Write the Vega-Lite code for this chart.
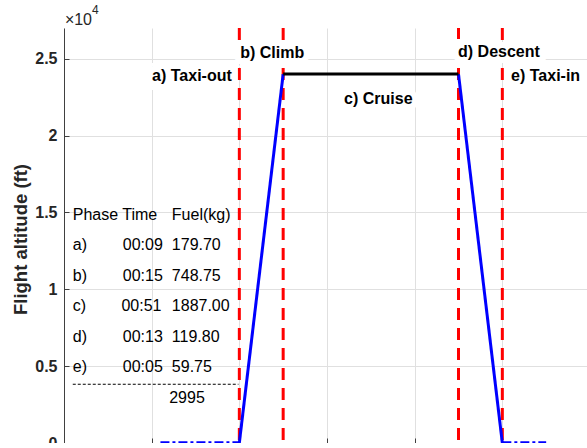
{
  "$schema": "https://vega.github.io/schema/vega-lite/v6.json",
  "width": 526,
  "height": 415,
  "autosize": {"type": "none"},
  "padding": {"left": 64, "top": 28, "right": 0, "bottom": 0},
  "background": "white",
  "config": {
    "font": "Liberation Sans",
    "view": {"stroke": null},
    "axis": {
      "domainColor": "#404040",
      "domainWidth": 1,
      "tickColor": "#404040",
      "gridColor": "#e0e0e0",
      "gridWidth": 1,
      "labelColor": "#262626",
      "labelFont": "Liberation Sans",
      "labelFontSize": 16,
      "labelFontWeight": "bold",
      "titleFont": "Liberation Sans",
      "titleColor": "#262626"
    }
  },
  "datasets": {
    "profile": [
      {"phase": "taxi-out", "x": 11, "alt": 0},
      {"phase": "taxi-out", "x": 20, "alt": 0},
      {"phase": "climb", "x": 20, "alt": 0},
      {"phase": "climb", "x": 25, "alt": 24000},
      {"phase": "cruise", "x": 25, "alt": 24000},
      {"phase": "cruise", "x": 45, "alt": 24000},
      {"phase": "descent", "x": 45, "alt": 24000},
      {"phase": "descent", "x": 50, "alt": 0},
      {"phase": "taxi-in", "x": 50, "alt": 0},
      {"phase": "taxi-in", "x": 55, "alt": 0}
    ],
    "bounds": [{"x": 20}, {"x": 25}, {"x": 45}, {"x": 50}],
    "labels": [
      {"label": "a) Taxi-out", "x": 10.05, "alt": 23570},
      {"label": "b) Climb", "x": 20.1, "alt": 25065},
      {"label": "c) Cruise", "x": 31.95, "alt": 22070},
      {"label": "d) Descent", "x": 44.95, "alt": 25090},
      {"label": "e) Taxi-in", "x": 51.0, "alt": 23520}
    ],
    "exponent": [{"label": "×10", "x": 0.1, "alt": 27195}],
    "power": [{"label": "4", "x": 3.2, "alt": 27940}],
    "table": [
      {"text": "Phase Time", "x": 1, "alt": 14518},
      {"text": "Fuel(kg)", "x": 12.3, "alt": 14518},
      {"text": "a)", "x": 1, "alt": 12533},
      {"text": "00:09", "x": 6.7, "alt": 12533},
      {"text": "179.70", "x": 12.3, "alt": 12533},
      {"text": "b)", "x": 1, "alt": 10547},
      {"text": "00:15", "x": 6.7, "alt": 10547},
      {"text": "748.75", "x": 12.3, "alt": 10547},
      {"text": "c)", "x": 1, "alt": 8561},
      {"text": "00:51", "x": 6.55, "alt": 8561},
      {"text": "1887.00", "x": 12.3, "alt": 8561},
      {"text": "d)", "x": 1, "alt": 6576},
      {"text": "00:13", "x": 6.7, "alt": 6576},
      {"text": "119.80", "x": 12.3, "alt": 6576},
      {"text": "e)", "x": 1, "alt": 4590},
      {"text": "00:05", "x": 6.7, "alt": 4590},
      {"text": "59.75", "x": 12.3, "alt": 4590},
      {"text": "2995", "x": 12.0, "alt": 2604}
    ],
    "sep": [{"x": 1, "x2": 19.9, "alt": 3822}]
  },
  "encoding": {
    "x": {
      "field": "x",
      "type": "quantitative",
      "scale": {"domain": [0, 60], "nice": false},
      "axis": {
        "values": [0, 10, 20, 30, 40, 50, 60],
        "grid": true,
        "labels": false,
        "title": null,
        "tickSize": -5,
        "domain": true
      }
    },
    "y": {
      "field": "alt",
      "type": "quantitative",
      "scale": {"domain": [0, 27000], "nice": false},
      "axis": {
        "values": [0, 5000, 10000, 15000, 20000, 25000],
        "labelExpr": "'' + datum.value / 10000",
        "grid": true,
        "tickSize": -5,
        "labelPadding": 12,
        "title": "Flight altitude (ft)",
        "titleFontSize": 18.5,
        "titleFontWeight": "bold",
        "titleAngle": 270,
        "titleAlign": "center",
        "titleBaseline": "middle",
        "titleX": -44,
        "titleY": 211
      }
    }
  },
  "layer": [
    {
      "data": {"name": "bounds"},
      "mark": {"type": "rule", "color": "#ff0000", "strokeWidth": 3, "strokeDash": [12, 8]},
      "encoding": {"y": null}
    },
    {
      "data": {"name": "profile"},
      "transform": [{"filter": "datum.phase === 'climb' || datum.phase === 'descent'"}],
      "mark": {"type": "line", "color": "#0000ff", "strokeWidth": 3},
      "encoding": {"detail": {"field": "phase"}}
    },
    {
      "data": {"name": "profile"},
      "transform": [{"filter": "datum.phase === 'cruise'"}],
      "mark": {"type": "line", "color": "#000000", "strokeWidth": 3},
      "encoding": {}
    },
    {
      "data": {"name": "profile"},
      "transform": [{"filter": "datum.phase === 'taxi-out' || datum.phase === 'taxi-in'"}],
      "mark": {"type": "line", "color": "#0000ff", "strokeWidth": 3.5, "strokeDash": [9, 3, 3, 3]},
      "encoding": {"detail": {"field": "phase"}}
    },
    {
      "data": {"name": "sep"},
      "mark": {"type": "rule", "color": "#000000", "strokeWidth": 1, "strokeDash": [3, 2]},
      "encoding": {"x2": {"field": "x2"}}
    },
    {
      "data": {"name": "labels"},
      "mark": {"type": "text", "align": "left", "baseline": "alphabetic", "fontSize": 16, "fontWeight": "bold", "fill": "white", "stroke": "white", "strokeWidth": 12, "strokeJoin": "miter"},
      "encoding": {"text": {"field": "label"}}
    },
    {
      "data": {"name": "labels"},
      "mark": {"type": "text", "align": "left", "baseline": "alphabetic", "fontSize": 16, "fontWeight": "bold", "color": "#000000"},
      "encoding": {"text": {"field": "label"}}
    },
    {
      "data": {"name": "table"},
      "mark": {"type": "text", "align": "left", "baseline": "alphabetic", "fontSize": 16, "color": "#000000"},
      "encoding": {"text": {"field": "text"}}
    },
    {
      "data": {"name": "exponent"},
      "mark": {"type": "text", "align": "left", "baseline": "alphabetic", "fontSize": 16, "color": "#262626"},
      "encoding": {"text": {"field": "label"}}
    },
    {
      "data": {"name": "power"},
      "mark": {"type": "text", "align": "left", "baseline": "alphabetic", "fontSize": 12, "color": "#262626"},
      "encoding": {"text": {"field": "label"}}
    }
  ]
}
